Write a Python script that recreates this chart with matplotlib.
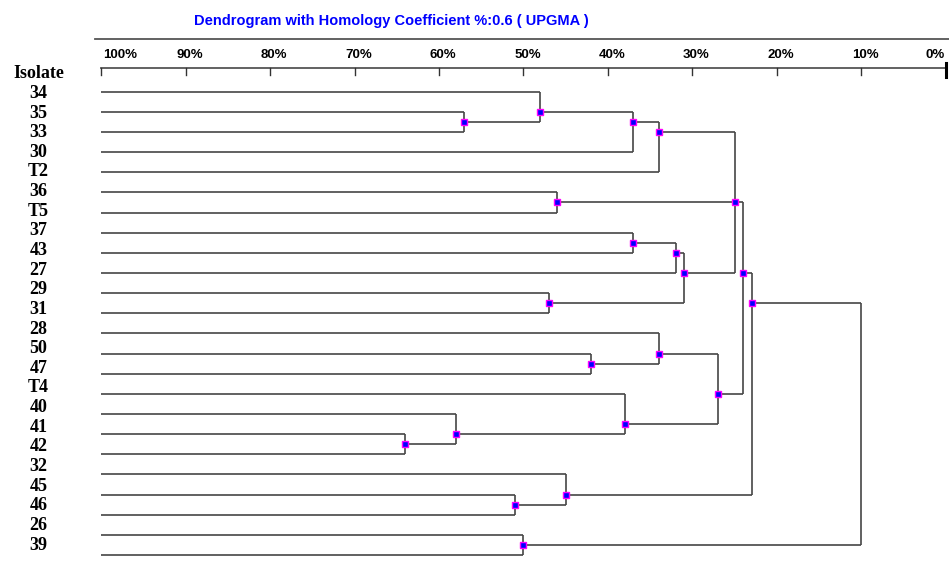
import matplotlib
matplotlib.use('Agg')
import matplotlib.pyplot as plt
import numpy as np


isolates = ['34', '35', '33', '30', 'T2', '36', 'T5', '37', '43', '27', '29', '31',
            '28', '50', '47', 'T4', '40', '41', '42', '32', '45', '46', '26', '39']

# each merge: children (leaf index, or 'nK' for merge number K) and the join level [%]
merge_children = [
    [1, 2], [0, 'n0'], ['n1', 3], ['n2', 4],
    [5, 6], [7, 8], ['n5', 9], [10, 11], ['n6', 'n7'], ['n3', 'n4', 'n8'],
    [13, 14], [12, 'n10'], [17, 18], [16, 'n12'], [15, 'n13'], ['n11', 'n14'],
    ['n9', 'n15'], [20, 21], [19, 'n17'], ['n16', 'n18'], [22, 23], ['n19', 'n20'],
]
merge_levels = [57, 48, 37, 34,
                46, 37, 32, 47, 31, 25,
                42, 34, 64, 58, 38, 27,
                24, 51, 45, 23, 50, 10]

scale_ticks = [100, 90, 80, 70, 60, 50, 40, 30, 20, 10, 0]
title = 'Dendrogram with Homology Coefficient %:0.6 ( UPGMA )'

# pixel geometry of the original picture
W, H = 949, 580
PX_PER_PCT = 8.45
X100_PX = 101
LEAF0_PX = 91.7
LEAF_STEP_PX = 20.14


def px_x(px):
    return 100 - (px - X100_PX) / PX_PER_PCT


def px_y(py):
    return (py - LEAF0_PX) / LEAF_STEP_PX


line_col = '#454545'
tick_font = dict(family='Liberation Sans', weight='bold', size=9.5, va='baseline')

fig = plt.figure(figsize=(W / 100, H / 100), dpi=100)
ax = fig.add_axes([0, 0, 1, 1])
ax.set_xlim(px_x(0), px_x(W))
ax.set_ylim(px_y(H), px_y(0))
ax.axis('off')

# tree
pos = {}
members = {}
for i in range(len(isolates)):
    pos[i] = (100, i)
    members[i] = [i]

nodes = []
for k, (children, level) in enumerate(zip(merge_children, merge_levels)):
    leaves = sum((members[c] for c in children), [])
    ys = [pos[c][1] for c in children]
    for c in children:
        ax.plot([pos[c][0], level], [pos[c][1], pos[c][1]], color=line_col, lw=1.2,
                solid_capstyle='butt')
    ax.plot([level, level], [min(ys), max(ys)], color=line_col, lw=1.2, solid_capstyle='butt')
    key = 'n%d' % k
    pos[key] = (level, np.mean(leaves))
    members[key] = leaves
    nodes.append(pos[key])

# join markers (root has none)
nx = [p[0] for p in nodes[:-1]]
ny = [p[1] for p in nodes[:-1]]
ax.plot(nx, ny, 's', ms=4.2, mfc='#0000ff', mec='#ff00ff', mew=1.0, zorder=5)

# isolate labels
lab_x = px_x(38.5)
ax.text(lab_x, -0.975 + 0.31, 'Isolate', ha='center', va='baseline',
        family='Liberation Serif', weight='bold', size=13)
for i, name in enumerate(isolates):
    ax.text(lab_x, i * 0.975 + 0.31, name, ha='center', va='baseline',
            family='Liberation Serif', weight='bold', size=13)

# scale bar on top
ax.plot([px_x(95), px_x(W)], [px_y(39), px_y(39)], color='#555555', lw=1.3)
ax.plot([100, 0], [px_y(68.3), px_y(68.3)], color='#555555', lw=1.3)
for t in scale_ticks:
    ax.plot([t, t], [px_y(68.3), px_y(75)], color='#333333', lw=1.0)
    if t == 100:
        ax.text(px_x(103), px_y(58), '%d%%' % t, ha='left', **tick_font)
    elif t == 0:
        ax.text(px_x(945), px_y(58), '%d%%' % t, ha='right', **tick_font)
    else:
        ax.text(t - 4 / PX_PER_PCT, px_y(58), '%d%%' % t, ha='center', **tick_font)
ax.plot([0, 0], [px_y(63), px_y(77)], color='black', lw=2.2)

ax.text(px_x(391.5), px_y(25), title, ha='center', va='baseline', color='#0000ff',
        family='Liberation Sans', weight='bold', size=10.5)

fig.savefig('out.png', dpi=100)
